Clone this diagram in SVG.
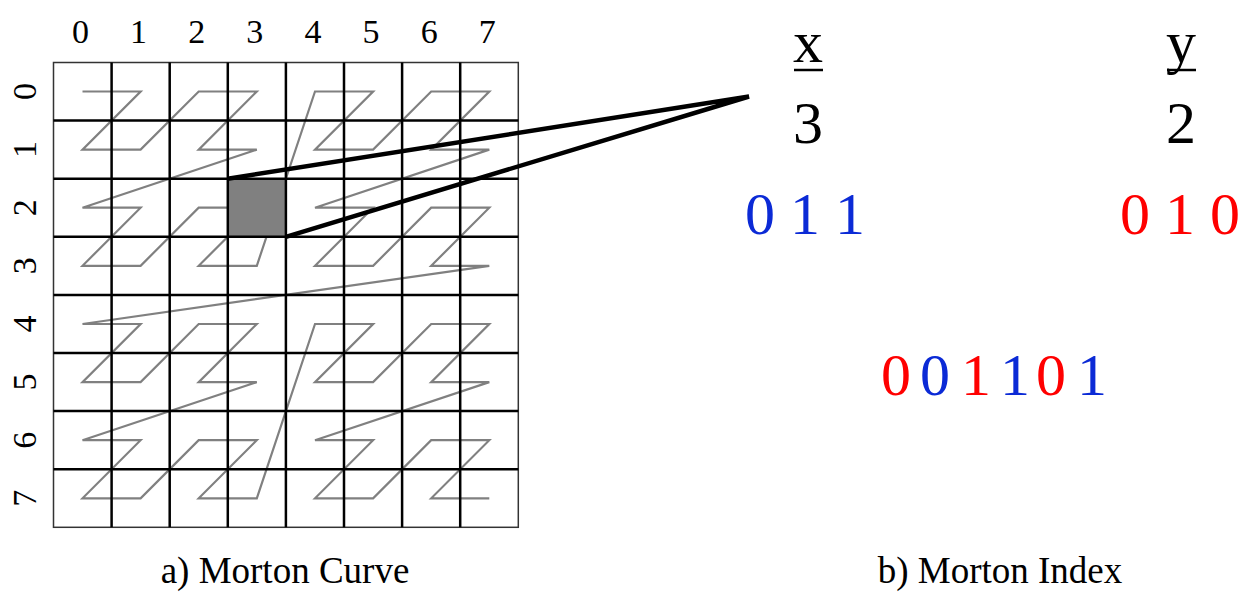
<svg xmlns="http://www.w3.org/2000/svg" width="1250" height="593" viewBox="0 0 1250 593" font-family="'Liberation Serif', 'DejaVu Serif', serif">
<style>
text{font-family:'Liberation Serif','DejaVu Serif',serif}
.lbl{font-size:34px;text-anchor:middle}
.big{font-size:60px;text-anchor:middle}
.cap{font-size:37px;text-anchor:middle}
.blue{fill:#0b2ad6}
.red{fill:#ff0000}
.inner{stroke:#000;stroke-width:2.5;fill:none}
.curve{stroke:#808080;stroke-width:2.2;fill:none;stroke-linejoin:miter}
.conn{stroke:#000;stroke-width:4.5;fill:none;stroke-linecap:butt}
</style>
<rect width="1250" height="593" fill="#fff"/>
<g id="grid">
<rect x="53.5" y="62.5" width="464.8" height="464.8" fill="#fff" stroke="#333" stroke-width="1.5"/>
<rect id="selected-cell" x="227.8" y="178.7" width="58.1" height="58.1" fill="#808080"/>
<polyline class="curve" points="82.5,91.5 140.6,91.5 82.5,149.6 140.6,149.6 198.7,91.5 256.8,91.5 198.7,149.6 256.8,149.6 82.5,207.7 140.6,207.7 82.5,265.8 140.6,265.8 198.7,207.7 256.8,207.7 198.7,265.8 256.8,265.8 315,91.5 373.1,91.5 315,149.6 373.1,149.6 431.2,91.5 489.3,91.5 431.2,149.6 489.3,149.6 315,207.7 373.1,207.7 315,265.8 373.1,265.8 431.2,207.7 489.3,207.7 431.2,265.8 489.3,265.8 82.5,324 140.6,324 82.5,382.1 140.6,382.1 198.7,324 256.8,324 198.7,382.1 256.8,382.1 82.5,440.2 140.6,440.2 82.5,498.3 140.6,498.3 198.7,440.2 256.8,440.2 198.7,498.3 256.8,498.3 315,324 373.1,324 315,382.1 373.1,382.1 431.2,324 489.3,324 431.2,382.1 489.3,382.1 315,440.2 373.1,440.2 315,498.3 373.1,498.3 431.2,440.2 489.3,440.2 431.2,498.3 489.3,498.3"/>
<path class="inner" d="M111.6,62.5V527.3M169.7,62.5V527.3M227.8,62.5V527.3M285.9,62.5V527.3M344,62.5V527.3M402.1,62.5V527.3M460.2,62.5V527.3M53.5,120.6H518.3M53.5,178.7H518.3M53.5,236.8H518.3M53.5,294.9H518.3M53.5,353H518.3M53.5,411.1H518.3M53.5,469.2H518.3"/>
</g>
<g id="column-labels" class="lbl">
<text x="80.5" y="43">0</text><text x="138.6" y="43">1</text><text x="196.7" y="43">2</text><text x="254.8" y="43">3</text><text x="313" y="43">4</text><text x="371.1" y="43">5</text><text x="429.2" y="43">6</text><text x="487.3" y="43">7</text>
</g>
<g id="row-labels" class="lbl">
<text transform="translate(36,91.5) rotate(-90)">0</text>
<text transform="translate(36,149.6) rotate(-90)">1</text>
<text transform="translate(36,207.7) rotate(-90)">2</text>
<text transform="translate(36,265.8) rotate(-90)">3</text>
<text transform="translate(36,324) rotate(-90)">4</text>
<text transform="translate(36,382.1) rotate(-90)">5</text>
<text transform="translate(36,440.2) rotate(-90)">6</text>
<text transform="translate(36,498.3) rotate(-90)">7</text>
</g>
<g id="connectors">
<path class="conn" d="M227.8,178.7L749,96.5L285.9,236.8"/>
</g>
<g id="x-label" class="big">
<text x="808" y="62">x</text>
<line x1="794" y1="70" x2="823" y2="70" stroke="#000" stroke-width="2.5"/>
</g>
<g id="y-label" class="big">
<text x="1181" y="62">y</text>
<line x1="1167" y1="70" x2="1196" y2="70" stroke="#000" stroke-width="2.5"/>
</g>
<g id="x-value" class="big"><text x="808" y="143">3</text></g>
<g id="y-value" class="big"><text x="1181" y="143">2</text></g>
<g id="x-bits" class="big"><text x="805" y="234" class="blue">0 1 1</text></g>
<g id="y-bits" class="big"><text x="1180" y="234" class="red">0 1 0</text></g>
<g id="morton-index" style="font-size:60px">
<text y="395"><tspan x="881" class="red">0</tspan><tspan x="920" class="blue">0</tspan><tspan x="961" class="red">1</tspan><tspan x="1000" class="blue">1</tspan><tspan x="1036" class="red">0</tspan><tspan x="1077" class="blue">1</tspan></text>
</g>
<g id="captions" class="cap">
<text x="285" y="583">a) Morton Curve</text>
<text x="1000" y="583">b) Morton Index</text>
</g>
</svg>
